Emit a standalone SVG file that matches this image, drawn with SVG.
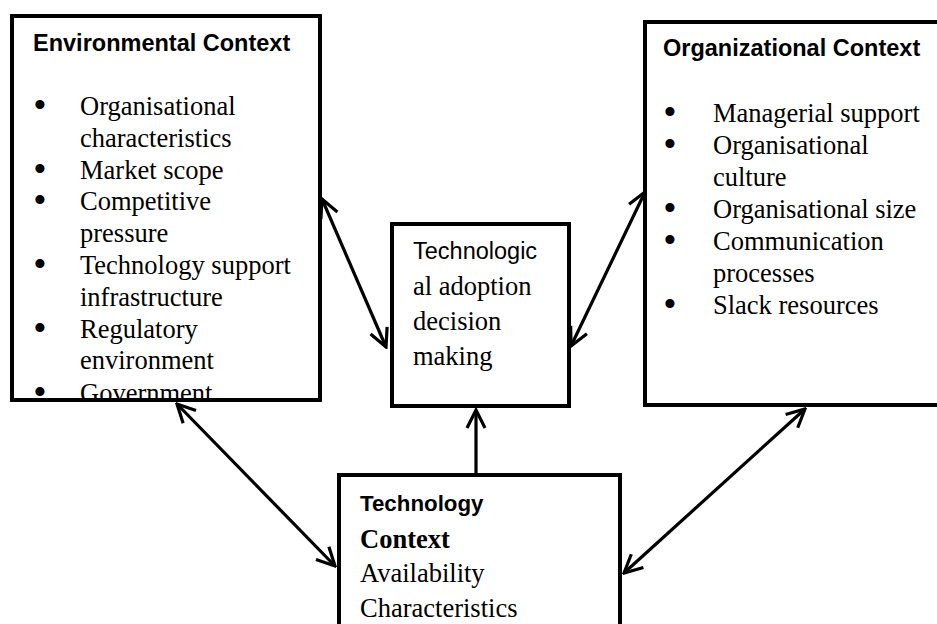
<svg xmlns="http://www.w3.org/2000/svg" width="937" height="624" viewBox="0 0 937 624">
<style>
.box{fill:#fff;stroke:#000;stroke-width:4}
.ttl{font-family:"Liberation Sans",Arial,sans-serif;font-weight:bold;font-size:23.5px;fill:#000}
.sans{font-family:"Liberation Sans",Arial,sans-serif;font-size:23.5px;fill:#000}
.ser{font-family:"Liberation Serif","Times New Roman",serif;font-size:26.5px;fill:#000}
.serb{font-family:"Liberation Serif","Times New Roman",serif;font-size:26.5px;font-weight:bold;fill:#000}
.bul{font-family:"Liberation Serif","Times New Roman",serif;font-size:38px;text-anchor:middle;fill:#000}
.con{fill:none;stroke:#000;stroke-width:3.2;marker-end:url(#ah)}
.bi{marker-start:url(#ah)}
</style>
<defs>
<marker id="ah" markerUnits="userSpaceOnUse" viewBox="-22 -12 24 24" markerWidth="24" markerHeight="24" refX="0" refY="0" orient="auto-start-reverse">
<path d="M-18,-9 L0,0 L-18,9" fill="none" stroke="#000" stroke-width="3.2" stroke-linejoin="miter"/>
</marker>
<clipPath id="envclip"><rect x="12" y="16" width="308" height="384"/></clipPath>
</defs>
<rect width="937" height="624" fill="#fff"/>

<g id="env">
<rect class="box" x="12" y="16" width="308" height="384"/>
<g clip-path="url(#envclip)">
<text class="ttl" x="33" y="51">Environmental Context</text>
<g class="bul">
<text x="40" y="118">•</text>
<text x="40" y="181.6">•</text>
<text x="40" y="213.4">•</text>
<text x="40" y="277">•</text>
<text x="40" y="340.6">•</text>
<text x="40" y="404.5">•</text>
</g>
<g class="ser">
<text x="80" y="115">Organisational</text>
<text x="80" y="146.8">characteristics</text>
<text x="80" y="178.6">Market scope</text>
<text x="80" y="210.4">Competitive</text>
<text x="80" y="242.2">pressure</text>
<text x="80" y="274">Technology support</text>
<text x="80" y="305.8">infrastructure</text>
<text x="80" y="337.6">Regulatory</text>
<text x="80" y="369.4">environment</text>
<text x="80" y="401.5">Government</text>
</g>
</g>
<rect x="12" y="16" width="308" height="384" fill="none" stroke="#000" stroke-width="4"/>
</g>

<g id="org">
<rect class="box" x="645" y="22" width="300" height="383"/>
<text class="ttl" x="663" y="56">Organizational Context</text>
<g class="bul">
<text x="670" y="125">•</text>
<text x="670" y="157">•</text>
<text x="670" y="221">•</text>
<text x="670" y="253">•</text>
<text x="670" y="317">•</text>
</g>
<g class="ser">
<text x="713" y="122">Managerial support</text>
<text x="713" y="154">Organisational</text>
<text x="713" y="186">culture</text>
<text x="713" y="218">Organisational size</text>
<text x="713" y="250">Communication</text>
<text x="713" y="282">processes</text>
<text x="713" y="314">Slack resources</text>
</g>
</g>

<g id="decision">
<rect class="box" x="392" y="224" width="177" height="182"/>
<text class="sans" x="413" y="259">Technologic</text>
<text class="ser" x="413" y="295">al adoption</text>
<text class="ser" x="413" y="330">decision</text>
<text class="ser" x="413" y="365">making</text>
</g>

<g id="tech">
<rect class="box" x="339" y="475" width="281" height="170"/>
<text class="ttl" x="360" y="511" style="font-size:22.3px">Technology</text>
<text class="serb" x="360" y="548">Context</text>
<text class="ser" x="360" y="582">Availability</text>
<text class="ser" x="360" y="617">Characteristics</text>
</g>

<g id="connectors">
<line class="con bi" x1="322" y1="199" x2="386" y2="347"/>
<line class="con bi" x1="645" y1="192" x2="571" y2="346"/>
<line class="con" x1="476" y1="473" x2="476" y2="410"/>
<line class="con bi" x1="177" y1="404" x2="335" y2="566"/>
<line class="con bi" x1="805" y1="409" x2="624" y2="573"/>
</g>
</svg>
